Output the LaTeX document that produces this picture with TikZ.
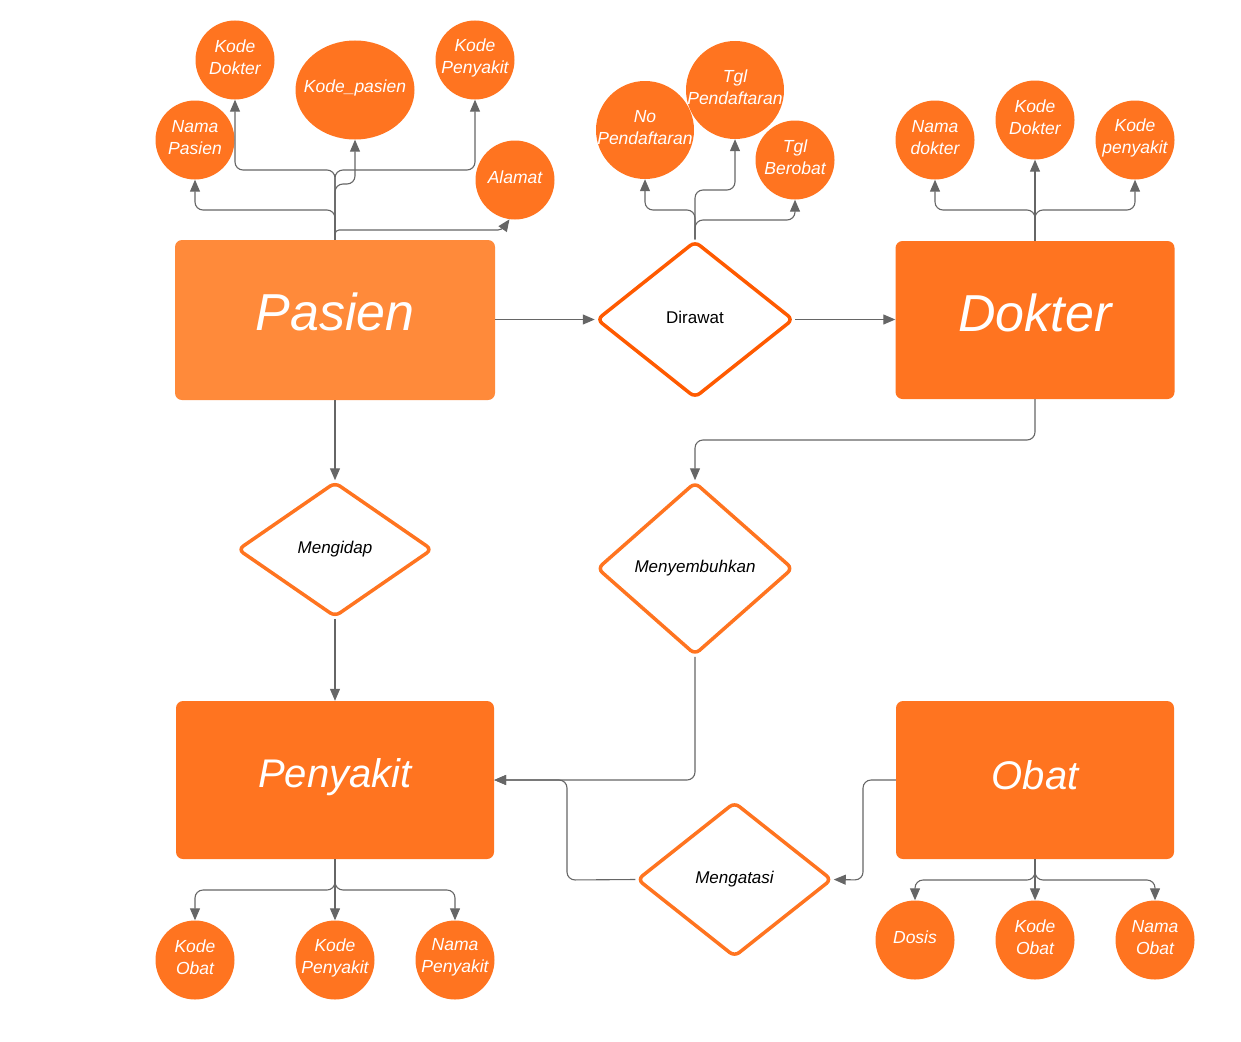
\documentclass[tikz,border=0pt]{standalone}
\usepackage{fontspec}
\setmainfont{Liberation Sans}
\usetikzlibrary{shapes.geometric,arrows.meta}
\definecolor{ora}{HTML}{FF7420}
\definecolor{oralight}{HTML}{FF8A3A}
\definecolor{orared}{HTML}{FF5A00}
\definecolor{lin}{HTML}{666666}
\begin{document}
\begin{tikzpicture}[x=1pt,y=-1pt,
  entity/.style={rectangle,rounded corners=7,fill=ora,text=white,minimum width=319,minimum height=159,inner sep=0,font=\fontsize{52}{60}\selectfont\itshape},
  atxt/.style={text=white,align=center,inner sep=0,yshift=2.5,font=\fontsize{17.5}{22}\selectfont\itshape},
  attr/.style={circle,fill=ora,minimum size=79,inner sep=0,label={[atxt]center:{#1}}},
  bigattr/.style={attr=#1,minimum size=98},
  rel/.style={diamond,draw=ora,line width=3.5,fill=white,rounded corners=6,inner sep=0,minimum width=195,minimum height=155,font=\fontsize{17}{20}\selectfont\itshape},
  conn/.style={draw=lin,line width=1.1,rounded corners=8},
  arr/.style={conn,-{Triangle[length=12,width=10]}}]
\useasboundingbox (0,0) rectangle (1241,1041);
% entities
\node[entity,fill=oralight,minimum width=320,minimum height=160,text depth=16] (pasien) at (335,320) {Pasien};
\node[entity,minimum width=279,minimum height=158,text depth=15] (dokter) at (1035,320) {Dokter};
\node[entity,minimum width=318,minimum height=158,font=\fontsize{40}{46}\selectfont\itshape,text depth=14] (penyakit) at (335,780) {Penyakit};
\node[entity,minimum width=278,minimum height=158,font=\fontsize{40}{46}\selectfont\itshape,text depth=11] (obat) at (1035,780) {Obat};
% relations
\node[rel,draw=orared,minimum width=197,minimum height=157,font=\fontsize{17}{20}\selectfont,text depth=4] (dirawat) at (695,319.5) {Dirawat};
\node[rel,minimum width=195,minimum height=135] (mengidap) at (335,549.5) {Mengidap};
\node[rel,minimum width=196,minimum height=173] (menyembuhkan) at (695,568.5) {Menyembuhkan};
\node[rel,minimum width=195,minimum height=155] (mengatasi) at (734.5,879.5) {Mengatasi};
% attributes Pasien
\node[attr={Nama\\Pasien}] (namapasien) at (195,140) {};
\node[attr={Kode\\Dokter}] (kodedokter1) at (235,60) {};
\node[attr={Kode\_pasien},ellipse,minimum width=119,minimum height=99] (kodepasien) at (355,90) {};
\node[attr={Kode\\Penyakit}] (kodepenyakit1) at (475,60) {};
\node[attr={Alamat}] (alamat) at (515,180) {};
% attributes Dirawat
\node[bigattr={No\\Pendaftaran}] (nopendaftaran) at (645,130) {};
\node[bigattr={Tgl\\Pendaftaran}] (tglpendaftaran) at (735,90) {};
\node[attr={Tgl\\Berobat}] (tglberobat) at (795,160) {};
% attributes Dokter
\node[attr={Nama\\dokter}] (namadokter) at (935,140) {};
\node[attr={Kode\\Dokter}] (kodedokter2) at (1035,120) {};
\node[attr={Kode\\penyakit}] (kodepenyakit2) at (1135,140) {};
% attributes Penyakit
\node[attr={Kode\\Obat}] (kodeobat1) at (195,960) {};
\node[attr={Kode\\Penyakit}] (kodepenyakit3) at (335,960) {};
\node[attr={Nama\\Penyakit}] (namapenyakit) at (455,960) {};
% attributes Obat
\node[attr={Dosis}] (dosis) at (915,940) {};
\node[attr={Kode\\Obat}] (kodeobat2) at (1035,940) {};
\node[attr={Nama\\Obat}] (namaobat) at (1155,940) {};
% connectors Pasien attributes
\path[arr] (pasien.north) -- (335,210) -- (195,210) -- (namapasien.south);
\path[arr] (pasien.north) -- (335,170) -- (235,170) -- (kodedokter1.south);
\path[arr] (pasien.north) -- (335,184) -- (355,184) -- (kodepasien.south);
\path[arr] (pasien.north) -- (335,170) -- (475,170) -- (kodepenyakit1.south);
\path[arr,rounded corners=4] (pasien.north) -- (335,230) -- (502,230) -- (alamat.-98);
% connectors Dirawat attributes
\path[arr] (dirawat.north) -- (695,210) -- (645,210) -- (nopendaftaran.south);
\path[arr] (dirawat.north) -- (695,190) -- (735,190) -- (tglpendaftaran.south);
\path[arr] (dirawat.north) -- (695,220) -- (795,220) -- (tglberobat.south);
% connectors Dokter attributes
\path[arr] (dokter.north) -- (1035,210) -- (935,210) -- (namadokter.south);
\path[arr] (dokter.north) -- (kodedokter2.south);
\path[arr] (dokter.north) -- (1035,210) -- (1135,210) -- (kodepenyakit2.south);
% connectors Penyakit attributes
\path[arr] (penyakit.south) -- (335,890) -- (195,890) -- (kodeobat1.north);
\path[arr] (penyakit.south) -- (kodepenyakit3.north);
\path[arr] (penyakit.south) -- (335,890) -- (455,890) -- (namapenyakit.north);
% connectors Obat attributes
\path[arr] (obat.south) -- (1035,880) -- (915,880) -- (dosis.north);
\path[arr] (obat.south) -- (kodeobat2.north);
\path[arr] (obat.south) -- (1035,880) -- (1155,880) -- (namaobat.north);
% relationships
\path[arr] (pasien.east |- dirawat.west) -- (dirawat.west);
\path[arr] (dirawat.east) -- (dokter.west |- dirawat.east);
\path[arr] (pasien.south) -- (mengidap.north);
\path[arr] (mengidap.south) -- (penyakit.north);
\path[arr] (dokter.south) -- (1035,440) -- (695,440) -- (menyembuhkan.north);
\path[arr] (menyembuhkan.south) -- (695,780) -- (penyakit.east);
\path[arr] (mengatasi.west) -- (567,880) -- (567,780) -- (penyakit.east);
\path[arr] (obat.west) -- (863,780) -- (863,880) -- (mengatasi.east);
\end{tikzpicture}
\end{document}
